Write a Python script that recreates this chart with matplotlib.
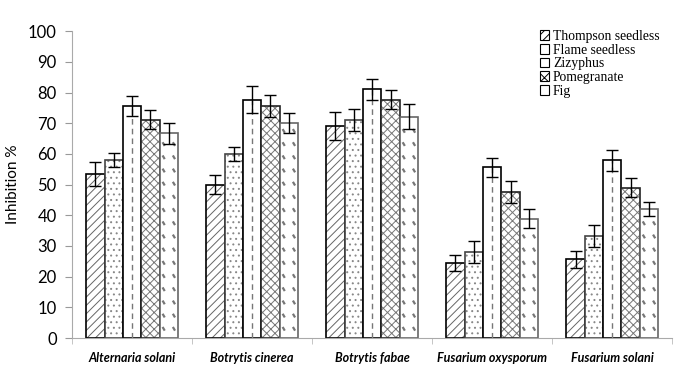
import matplotlib
matplotlib.use("Agg")
import matplotlib.pyplot as plt
import numpy as np
from matplotlib.patches import Patch

categories = ["Alternaria solani", "Botrytis cinerea", "Botrytis fabae",
              "Fusarium oxysporum", "Fusarium solani"]
series = ["Thompson seedless", "Flame seedless", "Zizyphus", "Pomegranate", "Fig"]
thompson = [53.4, 50.0, 69.0, 24.5, 25.6]
flame = [58.0, 60.0, 71.0, 27.9, 33.3]
zizyphus = [75.6, 77.7, 81.0, 55.6, 57.9]
pomegranate = [71.2, 75.6, 77.7, 47.7, 49.0]
fig_vals = [66.7, 70.1, 72.1, 38.9, 42.1]
thompson_err = [4.0, 3.2, 4.5, 2.5, 2.8]
flame_err = [2.4, 2.3, 3.5, 3.6, 3.6]
zizyphus_err = [3.4, 4.5, 3.3, 3.2, 3.4]
pomegranate_err = [3.1, 3.7, 3.1, 3.6, 3.2]
fig_err = [3.4, 3.3, 4.0, 3.1, 2.2]
yticks = list(range(0, 101, 10))

values = [thompson, flame, zizyphus, pomegranate, fig_vals]
errors = [thompson_err, flame_err, zizyphus_err, pomegranate_err, fig_err]
hatches = ["////", "...", "", "xxxx", ""]
edges = ["black", "#444444", "black", "#222222", "#666666"]
hatch_cols = ["#666666", "#888888", "#777777", "#777777", "#777777"]

plt.rcParams['hatch.linewidth'] = 0.7

fig = plt.figure(figsize=(6.86, 3.8), dpi=100)
ax = fig.add_axes([0.105, 0.1105, 0.875, 0.8075])

x = np.arange(len(categories))
w = 0.153
for i, (vals, errs) in enumerate(zip(values, errors)):
    pos = x + (i - 2) * w
    bars = ax.bar(pos, vals, w, facecolor="white", edgecolor=edges[i],
                  hatch=hatches[i], linewidth=1.2, zorder=2)
    for b in bars:
        b._hatch_color = matplotlib.colors.to_rgba(hatch_cols[i])
    if i == 2:
        ax.vlines(pos, 0, vals, colors="#777777", linestyles=(0, (4, 3)),
                  linewidth=1.0, zorder=3)
    if i == 4:
        for p, v in zip(pos, vals):
            ys = np.arange(3.0, v - 2.5, 4.3)
            for col in (-0.28, 0.28):
                for yy in ys:
                    ax.plot([p + col * w - 0.009, p + col * w + 0.009],
                            [yy + 0.6, yy - 0.6], color="#777777",
                            linewidth=1.6, zorder=3, solid_capstyle="butt")
    ax.errorbar(pos, vals, yerr=errs, fmt="none", ecolor="black",
                elinewidth=1.0, capsize=4, capthick=1.0, zorder=4)

ax.set_xlim(-0.5, len(categories) - 0.5)
ax.set_ylim(0, 100)
ax.set_yticks(yticks)
ax.set_yticklabels([str(t) for t in yticks], fontsize=12, family="Lato")
ax.set_xticks(x)
ax.set_xticklabels(categories, fontsize=9, fontweight="bold",
                   fontstyle="italic", family="Lato")
ax.set_xticks(np.arange(len(categories) + 1) - 0.5, minor=True)
ax.tick_params(axis="x", which="major", length=0, pad=10)
ax.tick_params(axis="x", which="minor", length=4, color="#bbbbbb")
ax.tick_params(axis="y", length=5, color="#999999", pad=6)
for s in ["top", "right"]:
    ax.spines[s].set_visible(False)
ax.spines["left"].set_color("#aaaaaa")
ax.spines["bottom"].set_color("#aaaaaa")
ax.set_ylabel("Inhibition %", fontsize=11, family="Lato", labelpad=6)

handles = [Patch(facecolor="white", edgecolor="black", hatch=h, label=s,
                 linewidth=0.8)
           for h, s in zip(["////", "", "", "xxx", ""], series)]
leg = ax.legend(handles=handles, loc="upper right", bbox_to_anchor=(0.995, 1.035),
                frameon=False, prop={"family": "Liberation Serif", "size": 9.8},
                handlelength=0.7, handleheight=0.7, handletextpad=0.3,
                labelspacing=0.05, borderpad=0.2)

fig.savefig("out.png", dpi=100)
